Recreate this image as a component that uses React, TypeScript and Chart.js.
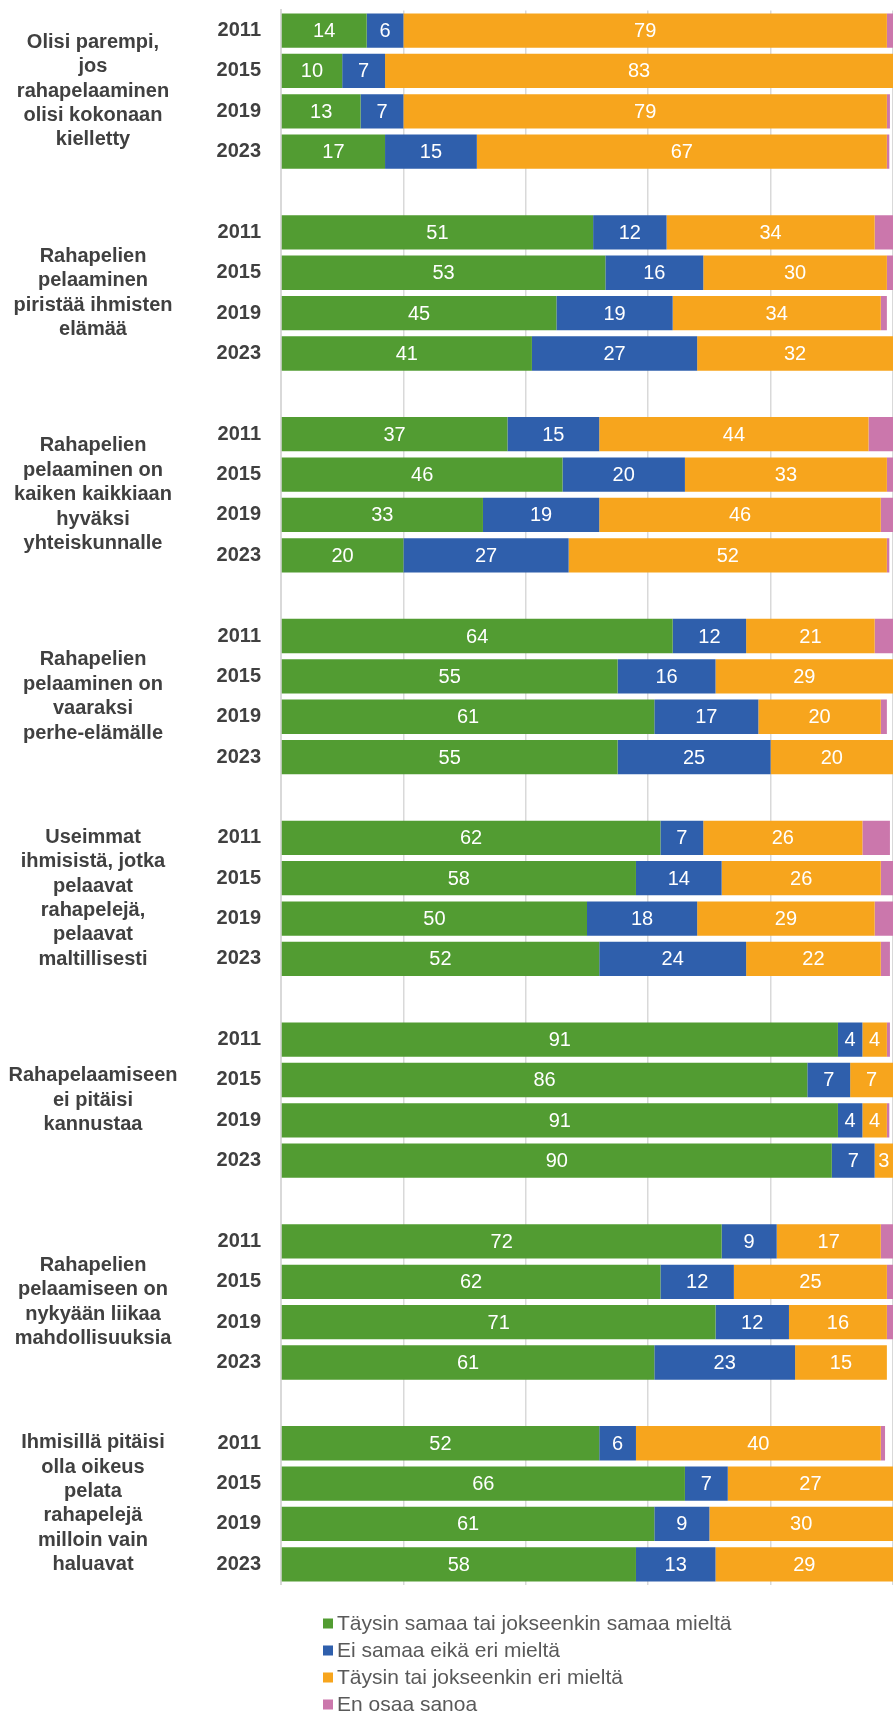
import React, { useEffect, useRef } from "react";
import { Chart, registerables } from "chart.js";

Chart.register(...registerables);

const years = ["2011", "2015", "2019", "2023"];

const statements = [
  ["Olisi parempi,", "jos", "rahapelaaminen", "olisi kokonaan", "kielletty"],
  ["Rahapelien", "pelaaminen", "piristää ihmisten", "elämää"],
  ["Rahapelien", "pelaaminen on", "kaiken kaikkiaan", "hyväksi", "yhteiskunnalle"],
  ["Rahapelien", "pelaaminen on", "vaaraksi", "perhe-elämälle"],
  ["Useimmat", "ihmisistä, jotka", "pelaavat", "rahapelejä,", "pelaavat", "maltillisesti"],
  ["Rahapelaamiseen", "ei pitäisi", "kannustaa"],
  ["Rahapelien", "pelaamiseen on", "nykyään liikaa", "mahdollisuuksia"],
  ["Ihmisillä pitäisi", "olla oikeus", "pelata", "rahapelejä", "milloin vain", "haluavat"],
];

const seriesNames = [
  "Täysin samaa tai jokseenkin samaa mieltä",
  "Ei samaa eikä eri mieltä",
  "Täysin tai jokseenkin eri mieltä",
  "En osaa sanoa",
];

const seriesColors = ["#529C32", "#2F5FAC", "#F7A51D", "#CB77AC"];

// per statement, values for 2011, 2015, 2019, 2023
const agree = [
  [14, 10, 13, 17],
  [51, 53, 45, 41],
  [37, 46, 33, 20],
  [64, 55, 61, 55],
  [62, 58, 50, 52],
  [91, 86, 91, 90],
  [72, 62, 71, 61],
  [52, 66, 61, 58],
];
const neutral = [
  [6, 7, 7, 15],
  [12, 16, 19, 27],
  [15, 20, 19, 27],
  [12, 16, 17, 25],
  [7, 14, 18, 24],
  [4, 7, 4, 7],
  [9, 12, 12, 23],
  [6, 7, 9, 13],
];
const disagree = [
  [79, 83, 79, 67],
  [34, 30, 34, 32],
  [44, 33, 46, 52],
  [21, 29, 20, 20],
  [26, 26, 29, 22],
  [4, 7, 4, 3],
  [17, 25, 16, 15],
  [40, 27, 30, 29],
];
const dontKnow = [
  [1, 0.4, 0.5, 0.4],
  [3, 1, 1, 0.3],
  [4, 1, 2, 0.4],
  [3, 0.7, 1, 0.3],
  [4.5, 2, 3.5, 1.5],
  [0.5, 0.3, 0.4, 0],
  [2, 1, 1, 0],
  [0.7, 0, 0, 0],
];

const xTicksStep = 20;

const FONT = "'Liberation Sans', Arial, sans-serif";

function buildLabels(): string[] {
  const out: string[] = [];
  statements.forEach((_, g) => {
    years.forEach((y) => out.push(y));
    if (g < statements.length - 1) out.push("");
  });
  return out;
}

function buildSeries(src: number[][]): (number | null)[] {
  const out: (number | null)[] = [];
  src.forEach((row, g) => {
    row.forEach((v) => out.push(v));
    if (g < src.length - 1) out.push(null);
  });
  return out;
}

const groupLabelPlugin = {
  id: "groupLabels",
  afterDraw(chart: any) {
    const ctx = chart.ctx;
    const y = chart.scales.y;
    ctx.save();
    ctx.font = `bold 20px ${FONT}`;
    ctx.fillStyle = "#404040";
    ctx.textAlign = "center";
    ctx.textBaseline = "middle";
    const lh = 24.4;
    statements.forEach((lines, g) => {
      const top = y.getPixelForValue(g * 5);
      const bottom = y.getPixelForValue(g * 5 + 3);
      const c = (top + bottom) / 2;
      lines.forEach((line, i) => {
        ctx.fillText(line, 93, c + (i - (lines.length - 1) / 2) * lh);
      });
    });
    ctx.restore();
  },
};

const valueLabelPlugin = {
  id: "valueLabels",
  afterDatasetsDraw(chart: any) {
    const ctx = chart.ctx;
    ctx.save();
    ctx.font = `20px ${FONT}`;
    ctx.fillStyle = "#FFFFFF";
    ctx.textAlign = "center";
    ctx.textBaseline = "middle";
    [0, 1, 2].forEach((di) => {
      const meta = chart.getDatasetMeta(di);
      const data = chart.data.datasets[di].data;
      meta.data.forEach((bar: any, i: number) => {
        const v = data[i];
        if (v == null || v <= 0) return;
        const p = bar.getProps(["x", "y", "base"], true);
        ctx.fillText(String(v), (p.x + p.base) / 2, p.y + 1);
      });
    });
    ctx.restore();
  },
};

const legendPlugin = {
  id: "verticalLegend",
  afterDraw(chart: any) {
    const ctx = chart.ctx;
    const area = chart.chartArea;
    ctx.save();
    ctx.font = `21px ${FONT}`;
    ctx.textAlign = "left";
    ctx.textBaseline = "middle";
    seriesNames.forEach((name, i) => {
      const cy = area.bottom + 39 + i * 27;
      ctx.fillStyle = seriesColors[i];
      ctx.fillRect(323, cy - 5, 10, 10);
      ctx.fillStyle = "#595959";
      ctx.fillText(name, 337, cy + 1);
    });
    ctx.restore();
  },
};

export default function App() {
  const ref = useRef<HTMLCanvasElement | null>(null);

  useEffect(() => {
    if (!ref.current) return;
    const labels = buildLabels();
    const sources = [agree, neutral, disagree, dontKnow];
    const chart = new Chart(ref.current, {
      type: "bar",
      data: {
        labels,
        datasets: sources.map((src, i) => ({
          label: seriesNames[i],
          data: buildSeries(src),
          backgroundColor: seriesColors[i],
          borderWidth: 0,
          barPercentage: 0.85,
          categoryPercentage: 1,
        })),
      },
      options: {
        indexAxis: "y",
        responsive: false,
        animation: false,
        devicePixelRatio: 1,
        layout: { autoPadding: false, padding: { top: 10.4, bottom: 128.5, left: 0, right: 0 } },
        plugins: {
          legend: { display: false },
          tooltip: { enabled: false },
        },
        scales: {
          x: {
            stacked: true,
            min: 0,
            max: 100,
            ticks: { display: false, stepSize: xTicksStep },
            grid: { color: "#D9D9D9", lineWidth: 1.5, drawTicks: false, tickLength: 0 },
            border: { display: false },
            afterFit: (s: any) => {
              s.height = 0;
              s.paddingLeft = 0;
              s.paddingRight = 0;
            },
          },
          y: {
            stacked: true,
            ticks: {
              autoSkip: false,
              padding: 20,
              color: "#404040",
              font: { family: FONT, size: 20, weight: "bold" },
            },
            grid: { display: false, drawTicks: false, tickLength: 0 },
            border: { display: true, color: "#D9D9D9", width: 2 },
            afterFit: (s: any) => {
              s.width = 281;
              s.paddingTop = 0;
              s.paddingBottom = 0;
            },
          },
        },
      } as any,
      plugins: [groupLabelPlugin, valueLabelPlugin, legendPlugin],
    });
    return () => chart.destroy();
  }, []);

  return (
    <div style={{ position: "absolute", left: 0, top: 0, width: 893, height: 1713, background: "#fff" }}>
      <canvas ref={ref} width={893} height={1713} style={{ display: "block" }} />
    </div>
  );
}
